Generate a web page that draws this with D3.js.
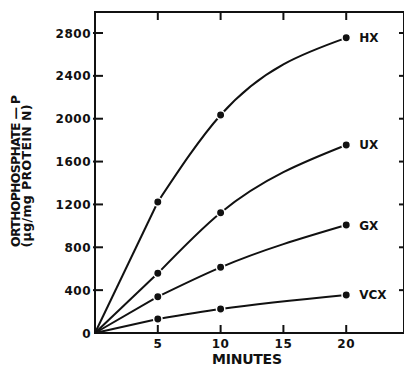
<!DOCTYPE html>
<html>
<head>
<meta charset="utf-8">
<script src="https://cdn.jsdelivr.net/npm/d3@7"></script>
<style>
  body { margin: 0; background: #fff; }
  text { font-family: "DejaVu Sans", sans-serif; font-weight: bold; fill: #111; }
</style>
</head>
<body>
<svg id="chart" width="404" height="367"></svg>
<script>
// data
var minutes = [0, 5, 10, 20];
var seriesNames = ["HX", "UX", "GX", "VCX"];
var hxValues = [0, 1223, 2035, 2755];
var uxValues = [0, 557, 1123, 1755];
var gxValues = [0, 339, 613, 1008];
var vcxValues = [0, 131, 224, 355];
var yTicks = [0, 400, 800, 1200, 1600, 2000, 2400, 2800];
var xTicks = [5, 10, 15, 20];

var allValues = [hxValues, uxValues, gxValues, vcxValues];

var svg = d3.select("#chart");
var plotLeft = 95, plotRight = 404, plotTop = 12, plotBottom = 333;

var x = d3.scaleLinear().domain([0, 24.6]).range([plotLeft, plotRight]);
var y = d3.scaleLinear().domain([0, 2996]).range([plotBottom, plotTop]);

// frame
svg.append("rect")
    .attr("x", plotLeft).attr("y", plotTop)
    .attr("width", plotRight - plotLeft).attr("height", plotBottom - plotTop)
    .attr("fill", "none").attr("stroke", "#111").attr("stroke-width", 2);

// inner ticks on all four sides
xTicks.forEach(function(t) {
    svg.append("line").attr("x1", x(t)).attr("x2", x(t))
        .attr("y1", plotBottom).attr("y2", plotBottom - 8)
        .attr("stroke", "#111").attr("stroke-width", 2);
    svg.append("line").attr("x1", x(t)).attr("x2", x(t))
        .attr("y1", plotTop).attr("y2", plotTop + 8)
        .attr("stroke", "#111").attr("stroke-width", 2);
});
yTicks.slice(1).forEach(function(t) {
    svg.append("line").attr("x1", plotLeft - 2).attr("x2", plotLeft + 8)
        .attr("y1", y(t)).attr("y2", y(t))
        .attr("stroke", "#111").attr("stroke-width", 2);
    svg.append("line").attr("x1", plotRight).attr("x2", plotRight - 5)
        .attr("y1", y(t)).attr("y2", y(t))
        .attr("stroke", "#111").attr("stroke-width", 2);
});

// tick labels
svg.selectAll(".ylab")
    .data(yTicks)
    .enter()
    .append("text")
    .attr("x", plotLeft - 4)
    .attr("y", function(d) { return y(d) + 4.5; })
    .attr("text-anchor", "end")
    .style("font-size", "12px")
    .style("letter-spacing", "0.5px")
    .text(function(d) { return d; });

svg.selectAll(".xlab")
    .data(xTicks)
    .enter()
    .append("text")
    .attr("x", function(d) { return x(d); })
    .attr("y", plotBottom + 15)
    .attr("text-anchor", "middle")
    .style("font-size", "12px")
    .style("letter-spacing", "0.5px")
    .text(function(d) { return d; });

// axis titles
svg.append("text")
    .attr("x", 247).attr("y", 364)
    .attr("text-anchor", "middle")
    .style("font-size", "14px")
    .attr("textLength", 70)
    .text("MINUTES");

svg.append("text")
    .attr("transform", "translate(20,171) rotate(-90)")
    .attr("text-anchor", "middle")
    .style("font-size", "12.5px")
    .attr("textLength", 152)
    .text("ORTHOPHOSPHATE \u2014 P");

svg.append("text")
    .attr("transform", "translate(31,176) rotate(-90)")
    .attr("text-anchor", "middle")
    .style("font-size", "12.5px")
    .attr("textLength", 143)
    .text("(\u03bcg/mg PROTEIN N)");

// curves: straight from the origin, then a smooth curve through the later points
var straight = d3.line()
    .x(function(d) { return x(d[0]); })
    .y(function(d) { return y(d[1]); });
var smooth = d3.line()
    .curve(d3.curveMonotoneX)
    .x(function(d) { return x(d[0]); })
    .y(function(d) { return y(d[1]); });

allValues.forEach(function(vals, i) {
    var pts = minutes.map(function(m, j) { return [m, vals[j]]; });
    svg.append("path")
        .attr("d", straight(pts.slice(0, 2)))
        .attr("fill", "none").attr("stroke", "#111").attr("stroke-width", 2);
    svg.append("path")
        .attr("d", smooth(pts.slice(1)))
        .attr("fill", "none").attr("stroke", "#111").attr("stroke-width", 2);
    svg.selectAll(".dot" + i)
        .data(pts.slice(1))
        .enter()
        .append("circle")
        .attr("cx", function(d) { return x(d[0]); })
        .attr("cy", function(d) { return y(d[1]); })
        .attr("r", 4.2)
        .attr("fill", "#111")
        .attr("stroke", "#fff")
        .attr("stroke-width", 1.5);
    svg.append("text")
        .attr("x", x(20) + 13)
        .attr("y", y(vals[3]) + 4.5)
        .style("font-size", "12px")
        .text(seriesNames[i]);
});
</script>
</body>
</html>
